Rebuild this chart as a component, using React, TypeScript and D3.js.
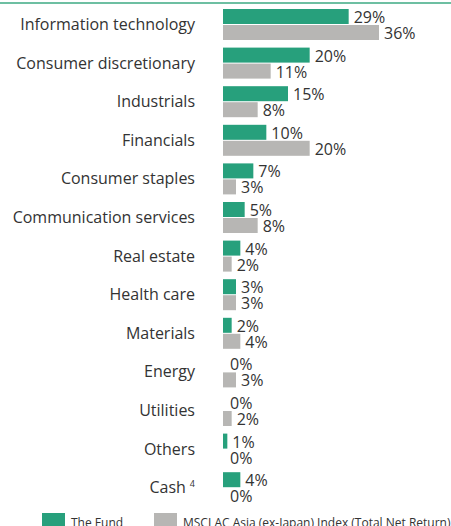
import React from "react";
import * as d3 from "d3";

const categories = [
  "Information technology",
  "Consumer discretionary",
  "Industrials",
  "Financials",
  "Consumer staples",
  "Communication services",
  "Real estate",
  "Health care",
  "Materials",
  "Energy",
  "Utilities",
  "Others",
  "Cash",
];
const fundValues = [29, 20, 15, 10, 7, 5, 4, 3, 2, 0, 0, 1, 4];
const indexValues = [36, 11, 8, 20, 3, 8, 2, 3, 4, 3, 2, 0, 0];
const seriesNames = ["The Fund", "MSCI AC Asia (ex-Japan) Index (Total Net Return)"];
const colors = ["#27a07c", "#b7b6b4"];

const W = 451;
const H = 526;
const FONT = "'Open Sans', sans-serif";
const TEXT = "#333333";

export default function App() {
  const x = d3.scaleLinear().domain([0, 36]).range([223, 379]);
  const y = d3
    .scaleBand<string>()
    .domain(categories)
    .range([9, 9 + categories.length * 38.6]);
  const barH = 15;
  const gap = 16;

  return (
    <div style={{ position: "absolute", left: 0, top: 0 }}>
      <svg width={W} height={H} style={{ display: "block", fontFamily: FONT }}>
        <rect x={0} y={2} width={W} height={2} fill="#6dbfa2" />
        {categories.map((c, i) => {
          const top = y(c)!;
          const vals = [fundValues[i], indexValues[i]];
          return (
            <g key={c}>
              <text
                x={195}
                y={top + 21}
                textAnchor="end"
                fontSize={16}
                fill={TEXT}
              >
                {c}
                {c === "Cash" ? (
                  <tspan fontSize={9} dx={4} dy={-6}>
                    4
                  </tspan>
                ) : null}
              </text>
              {vals.map((v, k) => {
                const by = top + k * gap;
                return (
                  <g key={k}>
                    {v > 0 && (
                      <rect
                        x={x(0)}
                        y={by}
                        width={x(v) - x(0)}
                        height={barH}
                        fill={colors[k]}
                      />
                    )}
                    <text
                      x={v > 0 ? x(v) + 5 : x(0) + 7}
                      y={by + 14}
                      fontSize={16}
                      fill={TEXT}
                    >
                      {`${v}%`}
                    </text>
                  </g>
                );
              })}
            </g>
          );
        })}
        <g>
          <rect x={42} y={513} width={23} height={14} fill={colors[0]} />
          <text x={71} y={527} fontSize={12} fill={TEXT}>
            {seriesNames[0]}
          </text>
          <rect x={154} y={513} width={23} height={14} fill={colors[1]} />
          <text x={183} y={527} fontSize={12} fill={TEXT}>
            {seriesNames[1]}
          </text>
        </g>
      </svg>
    </div>
  );
}
